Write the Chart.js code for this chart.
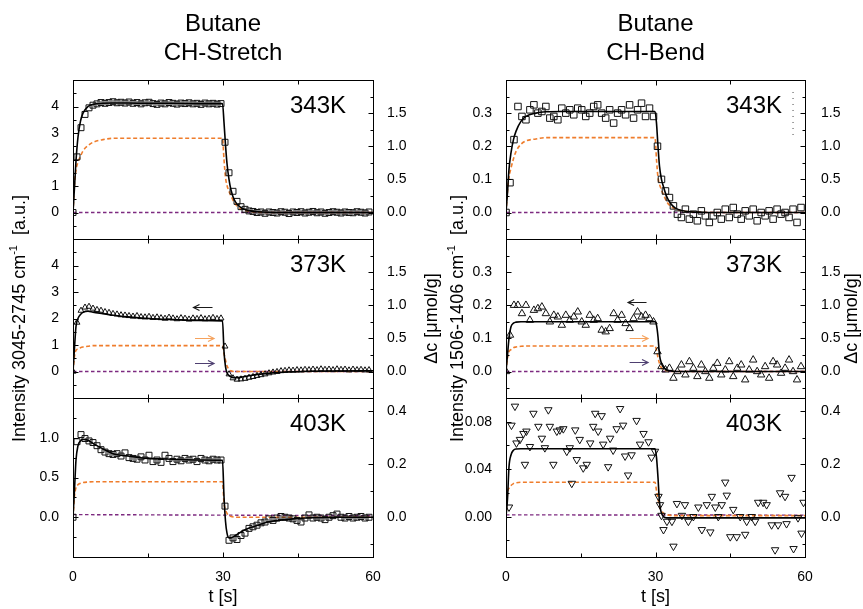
<!DOCTYPE html>
<html>
<head>
<meta charset="utf-8">
<title>Butane transient response</title>
<script src="https://cdn.jsdelivr.net/npm/chart.js@4.4.1/dist/chart.umd.min.js"></script>
<style>
  html, body { margin: 0; padding: 0; background: #fff; }
  #fig { position: relative; width: 863px; height: 609px; }
  #fig canvas { position: absolute; left: 0; top: 0; }
</style>
</head>
<body>
<div id="fig">
  <canvas id="p0" width="863" height="609"></canvas>
  <canvas id="p1" width="863" height="609"></canvas>
  <canvas id="p2" width="863" height="609"></canvas>
  <canvas id="p3" width="863" height="609"></canvas>
  <canvas id="p4" width="863" height="609"></canvas>
  <canvas id="p5" width="863" height="609"></canvas>
</div>
<script>
const FONT = '"Liberation Sans", Arial, Helvetica, sans-serif';
const ORANGE = '#ef7d2c';
const PURPLE = '#7d2a80';

// tick labels
const timeTicks = [0, 30, 60];
const timeMinor = [15, 45];
const stretchTicks = [0, 1, 2, 3, 4];
const stretchTicks403 = [0, 0.5, 1];
const bendTicks = [0, 0.1, 0.2, 0.3];
const bendTicks403 = [0, 0.04, 0.08];
const dcTicks = [0, 0.5, 1, 1.5];
const dcTicks403 = [0, 0.2, 0.4];

// measured spectra, time in s
const tGrid = [
  0.0, 0.8, 1.6, 2.4, 3.2, 4.0, 4.8, 5.6, 6.4, 7.2,
  8.0, 8.8, 9.6, 10.4, 11.2, 12.0, 12.8, 13.6, 14.4, 15.2,
  16.0, 16.8, 17.6, 18.4, 19.2, 20.0, 20.8, 21.6, 22.4, 23.2,
  24.0, 24.8, 25.6, 26.4, 27.2, 28.0, 28.8, 29.6, 30.4, 31.2,
  32.0, 32.8, 33.6, 34.4, 35.2, 36.0, 36.8, 37.6, 38.4, 39.2,
  40.0, 40.8, 41.6, 42.4, 43.2, 44.0, 44.8, 45.6, 46.4, 47.2,
  48.0, 48.8, 49.6, 50.4, 51.2, 52.0, 52.8, 53.6, 54.4, 55.2,
  56.0, 56.8, 57.6, 58.4, 59.2];

const stretch343 = [
  0.0, 2.1, 3.2, 3.7, 3.95, 4.05, 4.1, 4.15, 4.12, 4.15,
  4.18, 4.14, 4.16, 4.13, 4.17, 4.12, 4.15, 4.1, 4.14, 4.16,
  4.11, 4.08, 4.13, 4.1, 4.15, 4.12, 4.09, 4.13, 4.11, 4.14,
  4.1, 4.12, 4.08, 4.13, 4.1, 4.12, 4.09, 4.11, 2.65, 1.5,
  0.8, 0.42, 0.22, 0.12, 0.06, 0.04, 0.0, 0.02, -0.03, 0.02,
  0.0, -0.02, 0.03, 0.01, -0.04, 0.02, 0.0, 0.03, -0.02, 0.01,
  0.04, -0.01, 0.02, -0.03, 0.0, 0.03, 0.01, -0.02, 0.02, 0.0,
  -0.01, 0.03, 0.01, -0.02, 0.02];

const stretch373 = [
  0.0, 1.85, 2.3, 2.42, 2.45, 2.38, 2.33, 2.3, 2.25, 2.22,
  2.18, 2.16, 2.13, 2.12, 2.1, 2.08, 2.1, 2.06, 2.05, 2.07,
  2.03, 2.05, 2.02, 2.0, 2.04, 2.01, 1.98, 2.02, 2.0, 1.97,
  2.01, 1.99, 2.02, 1.98, 2.0, 2.03, 1.99, 2.01, 0.95, -0.1,
  -0.25, -0.3, -0.29, -0.27, -0.23, -0.2, -0.16, -0.13, -0.1, -0.06,
  -0.03, -0.01, 0.02, 0.03, 0.05, 0.04, 0.06, 0.05, 0.07, 0.06,
  0.08, 0.06, 0.09, 0.07, 0.08, 0.06, 0.09, 0.07, 0.08, 0.05,
  0.08, 0.06, 0.07, 0.05, 0.06];

const stretch403 = [
  0.0, 0.95, 1.04, 0.99, 0.96, 0.94, 0.9, 0.85, 0.82, 0.8,
  0.79, 0.8, 0.77, 0.81, 0.75, 0.74, 0.73, 0.76, 0.72, 0.78,
  0.7, 0.72, 0.69, 0.78, 0.74, 0.7, 0.73, 0.71, 0.74, 0.72,
  0.73, 0.7, 0.74, 0.72, 0.71, 0.73, 0.72, 0.72, 0.14, -0.29,
  -0.26, -0.28, -0.23, -0.2, -0.14, -0.12, -0.1, -0.07, -0.06, -0.02,
  -0.04, -0.01, 0.01, 0.0, -0.01, -0.02, -0.04, -0.06, -0.01, 0.03,
  -0.01, 0.0, -0.01, -0.03, 0.0, 0.02, 0.04, 0.0, -0.01, 0.01,
  -0.01, 0.0, 0.01, -0.01, 0.0];

const bend343 = [
  0.0, 0.09, 0.22, 0.32, 0.29, 0.28, 0.31, 0.325, 0.3, 0.305,
  0.32, 0.285, 0.29, 0.28, 0.315, 0.3, 0.31, 0.295, 0.315, 0.31,
  0.29, 0.3, 0.32, 0.325, 0.3, 0.285, 0.31, 0.27, 0.3, 0.31,
  0.295, 0.325, 0.285, 0.31, 0.33, 0.29, 0.315, 0.29, 0.2, 0.1,
  0.065, 0.045, 0.02, -0.005, -0.015, 0.01, -0.02, -0.005, -0.025, 0.005,
  -0.01, -0.03, -0.01, 0.0, -0.02, 0.01, -0.015, 0.015, -0.005, -0.02,
  0.005, -0.01, 0.01, -0.025, 0.0, -0.01, 0.005, -0.02, 0.01, -0.005,
  0.0, -0.015, 0.01, -0.03, 0.015];

const bend373 = [
  0.0, 0.11, 0.2, 0.2, 0.175, 0.2, 0.155, 0.185, 0.19, 0.195,
  0.175, 0.15, 0.17, 0.165, 0.14, 0.17, 0.155, 0.165, 0.18, 0.15,
  0.14, 0.17, 0.155, 0.16, 0.125, 0.12, 0.13, 0.175, 0.155, 0.17,
  0.145, 0.13, 0.16, 0.18, 0.165, 0.17, 0.16, 0.15, 0.06, 0.015,
  0.005, 0.01, -0.02, 0.0, 0.02, -0.01, 0.03, 0.01, -0.015, 0.02,
  0.0, -0.02, 0.01, 0.025, -0.01, 0.005, 0.03, -0.015, 0.01, 0.02,
  -0.025, 0.005, 0.035, 0.0, -0.01, 0.015, -0.02, 0.03, 0.02, -0.005,
  0.01, 0.035, 0.0, -0.025, 0.015];

const tBend403 = [
  0.6, 1.1, 1.8, 2.1, 2.8, 3.5, 3.8, 4.1, 4.8, 5.5,
  6.5, 7.2, 7.8, 8.5, 8.8, 9.5, 10.2, 10.8, 11.5, 12.2,
  12.8, 13.2, 13.9, 14.2, 14.8, 15.5, 16.2, 16.9, 17.5, 17.9,
  18.5, 19.2, 19.5, 20.5, 20.9, 21.5, 22.2, 22.9, 23.5, 23.9,
  24.5, 25.2, 26.2, 26.9, 27.6, 28.6, 29.2, 29.9, 30.6, 30.9,
  31.2, 31.6, 32.3, 33.3, 33.6, 34.3, 35.3, 35.9, 36.6, 37.6,
  38.6, 39.3, 40.3, 41.0, 41.3, 42.0, 42.6, 43.3, 44.0, 44.3,
  45.0, 45.6, 46.3, 47.0, 48.0, 48.3, 49.3, 50.0, 50.6, 51.6,
  52.3, 53.3, 54.0, 54.6, 55.0, 56.0, 56.3, 57.3, 57.7, 58.6,
  59.3, 59.7];
const bend403 = [
  0.008, 0.077, 0.093, 0.062, 0.065, 0.070, 0.044, 0.072, 0.059, 0.087,
  0.076, 0.066, 0.058, 0.090, 0.076, 0.044, 0.072, 0.073, 0.074, 0.055,
  0.058, 0.028, 0.073, 0.048, 0.065, 0.041, 0.044, 0.062, 0.076, 0.087,
  0.072, 0.085, 0.061, 0.042, 0.066, 0.056, 0.074, 0.091, 0.077, 0.051,
  0.035, 0.052, 0.081, 0.061, 0.070, 0.063, 0.050, 0.055, 0.017, 0.010,
  0.001, -0.011, -0.004, -0.004, -0.025, 0.011, 0.001, 0.010, -0.004, 0.000,
  0.008, -0.011, 0.010, -0.013, 0.017, 0.008, 0.000, 0.010, 0.029, 0.018,
  -0.017, 0.006, -0.017, 0.000, -0.015, -0.004, 0.000, -0.004, 0.012, 0.012,
  0.010, -0.007, -0.028, -0.007, 0.020, 0.017, -0.006, 0.033, -0.027, -0.001,
  -0.014, 0.012];

// model curves: intensity fit (left axis) and concentration change (right axis)
const tFit = [0, 0.3, 0.6, 1, 1.5, 2, 3, 4, 6, 8, 11, 15, 20, 25, 29.9,
  30.2, 30.5, 30.8, 31.2, 31.6, 32.2, 33, 34, 35.5, 37, 39, 41, 44, 48, 53, 60];

const fitStretch343 = [0, 0.95, 1.95, 2.85, 3.45, 3.75, 4.0, 4.08, 4.12, 4.13,
  4.13, 4.12, 4.12, 4.11, 4.11, 3.4, 2.55, 1.85, 1.25, 0.85,
  0.5, 0.28, 0.14, 0.06, 0.03, 0.01, 0, 0, 0, 0, 0];
const dcStretch343 = [0, 0.43, 0.64, 0.76, 0.85, 0.93, 1.01, 1.06, 1.1, 1.12,
  1.12, 1.12, 1.12, 1.12, 1.12, 0.8, 0.53, 0.41, 0.32, 0.25,
  0.16, 0.085, 0.043, 0.016, 0.005, 0, 0, 0, 0, 0, 0];

const fitStretch373 = [0, 0.9, 1.7, 2.0, 2.15, 2.23, 2.28, 2.24, 2.18, 2.12,
  2.06, 2.0, 1.96, 1.93, 1.91, 0.75, 0.18, -0.05, -0.15, -0.21,
  -0.23, -0.23, -0.2, -0.15, -0.11, -0.07, -0.04, -0.01, 0.01, 0.02, 0.03];
const dcStretch373 = [0, 0.23, 0.32, 0.34, 0.36, 0.37, 0.38, 0.39, 0.39, 0.39,
  0.39, 0.39, 0.39, 0.39, 0.39, 0.27, 0.17, 0.085, 0.032, 0.01,
  0, 0, 0, 0, 0, 0, 0, 0, 0, 0, 0];

const fitStretch403 = [0, 0.35, 0.72, 0.9, 0.96, 0.98, 0.97, 0.93, 0.86, 0.8,
  0.77, 0.74, 0.73, 0.72, 0.715, 0.26, -0.05, -0.2, -0.26, -0.26,
  -0.24, -0.21, -0.17, -0.13, -0.1, -0.06, -0.04, -0.02, -0.007, 0, 0];
const dcStretch403 = [0, 0.08, 0.112, 0.123, 0.128, 0.131, 0.133, 0.134, 0.134, 0.134,
  0.134, 0.134, 0.134, 0.134, 0.134, 0.055, 0.028, 0.015, 0.006, 0.003,
  0.001, 0, 0, 0, 0, 0, 0, 0, 0, 0, 0];

const fitBend343 = [0, 0.06, 0.13, 0.18, 0.22, 0.245, 0.275, 0.29, 0.3, 0.304,
  0.305, 0.305, 0.305, 0.305, 0.305, 0.27, 0.2, 0.14, 0.1, 0.078,
  0.05, 0.028, 0.013, 0.005, 0.002, 0.001, 0, 0, 0, 0, 0];
const dcBend343 = [0, 0.32, 0.53, 0.67, 0.81, 0.92, 1.03, 1.08, 1.11, 1.13,
  1.13, 1.13, 1.13, 1.13, 1.13, 0.8, 0.53, 0.43, 0.34, 0.27,
  0.17, 0.096, 0.053, 0.021, 0.011, 0.005, 0, 0, 0, 0, 0];

const fitBend373 = [0, 0.05, 0.1, 0.135, 0.146, 0.149, 0.15, 0.15, 0.15, 0.15,
  0.15, 0.15, 0.15, 0.15, 0.15, 0.14, 0.105, 0.05, 0.025, 0.013,
  0.005, 0.002, 0, 0, 0, 0, 0, 0, 0, 0, 0];
const dcBend373 = [0, 0.21, 0.3, 0.33, 0.36, 0.37, 0.38, 0.384, 0.384, 0.384,
  0.384, 0.384, 0.384, 0.384, 0.384, 0.32, 0.21, 0.12, 0.053, 0.027,
  0.011, 0, 0, 0, 0, 0, 0, 0, 0, 0, 0];

const fitBend403 = [0, 0.015, 0.042, 0.052, 0.056, 0.057, 0.0572, 0.0572, 0.0572, 0.0572,
  0.0572, 0.0572, 0.0572, 0.0572, 0.0572, 0.05, 0.033, 0.012, 0.003, 0,
  -0.001, -0.001, -0.001, -0.001, -0.001, -0.001, -0.001, -0.001, -0.001, -0.001, -0.001];
const dcBend403 = [0, 0.09, 0.11, 0.12, 0.127, 0.13, 0.132, 0.132, 0.132, 0.132,
  0.132, 0.132, 0.132, 0.132, 0.132, 0.1, 0.07, 0.04, 0.025, 0.015,
  0.01, 0.007, 0.006, 0.006, 0.006, 0.006, 0.006, 0.006, 0.006, 0.006, 0.006];

// reference lines (right axis)
const tBase = [0, 60];
const baseStretch343 = [0, 0];
const baseStretch373 = [0, 0];
const baseStretch403 = [0.01, 0.006];
const baseBend343 = [0, 0];
const baseBend373 = [0, 0];
const baseBend403 = [0.009, 0.008];
const tDots = [57.6, 57.6];
const dotsBend343 = [1.17, 1.89];

// layout of the six plot frames (px)
const COLS = [[73, 373], [506, 805]];
const ROWS = [[80, 239], [239, 398], [398, 557]];
const Y_W = 60, Y2_W = 50, X_H = 40;

function pts(xs, ys) { return xs.map((x, i) => ({ x: x, y: ys[i] })); }

function minorValues(min, max, step, majors) {
  const out = [];
  for (let v = Math.ceil(min / step - 1e-9) * step; v < max - 1e-9; v += step) {
    if (v <= min + 1e-9) continue;
    if (majors.some(m => Math.abs(m - v) < step / 10)) continue;
    out.push(v);
  }
  return out;
}

function rotatedText(ctx, x, y, parts) {
  ctx.save();
  ctx.translate(x, y);
  ctx.rotate(-Math.PI / 2);
  ctx.textAlign = 'left';
  ctx.textBaseline = 'middle';
  let w = 0;
  parts.forEach(p => { ctx.font = p.size + 'px ' + FONT; p.w = ctx.measureText(p.text).width; w += p.w; });
  let cx = -w / 2;
  parts.forEach(p => {
    ctx.font = p.size + 'px ' + FONT;
    ctx.fillText(p.text, cx, p.dy || 0);
    cx += p.w;
  });
  ctx.restore();
}

const decor = {
  id: 'decor',
  afterDraw(chart, args, o) {
    const ctx = chart.ctx, a = chart.chartArea;
    const sx = chart.scales.x, sy = chart.scales.y, sy2 = chart.scales.y2;
    ctx.save();
    ctx.strokeStyle = '#000';
    ctx.lineWidth = 1;
    ctx.strokeRect(a.left + 0.5, a.top + 0.5, a.right - a.left, a.bottom - a.top);

    ctx.beginPath();
    const xTick = (v, len) => {
      const p = Math.round(sx.getPixelForValue(v)) + 0.5;
      ctx.moveTo(p, a.bottom + 0.5); ctx.lineTo(p, a.bottom + 0.5 - len);
      ctx.moveTo(p, a.top + 0.5); ctx.lineTo(p, a.top + 0.5 + len);
    };
    const yTick = (scale, v, len, side) => {
      const p = Math.round(scale.getPixelForValue(v)) + 0.5;
      if (p < a.top + 2 || p > a.bottom - 1) return;
      const x0 = side < 0 ? a.left + 0.5 : a.right + 0.5;
      ctx.moveTo(x0, p); ctx.lineTo(x0 - side * len, p);
    };
    timeTicks.forEach(v => xTick(v, 5));
    timeMinor.forEach(v => xTick(v, 4));
    o.yMajor.forEach(v => yTick(sy, v, 5, -1));
    minorValues(sy.min, sy.max, o.yStep, o.yMajor).forEach(v => yTick(sy, v, 3, -1));
    o.y2Major.forEach(v => yTick(sy2, v, 5, 1));
    minorValues(sy2.min, sy2.max, o.y2Step, o.y2Major).forEach(v => yTick(sy2, v, 3, 1));
    ctx.stroke();

    // temperature label
    ctx.fillStyle = '#000';
    ctx.font = '24px ' + FONT;
    ctx.textAlign = 'right';
    ctx.textBaseline = 'alphabetic';
    ctx.fillText(o.label, a.right - o.labelInset, a.top + 33);

    // arrows pointing to the axis each curve belongs to
    (o.arrows || []).forEach(ar => {
      const x1 = sx.getPixelForValue(ar.from), x2 = sx.getPixelForValue(ar.to);
      const y = Math.round(sy.getPixelForValue(ar.y)) + 0.5;
      const d = x2 > x1 ? -1 : 1;
      ctx.strokeStyle = ar.color;
      ctx.lineWidth = 1.2;
      ctx.beginPath();
      ctx.moveTo(x1, y); ctx.lineTo(x2, y);
      ctx.moveTo(x2 + d * 6, y - 3); ctx.lineTo(x2, y); ctx.lineTo(x2 + d * 6, y + 3);
      ctx.stroke();
    });

    if (o.column) {
      const c = o.column, mid = (a.left + a.right) / 2;
      ctx.fillStyle = '#000';
      ctx.textAlign = 'center';
      ctx.textBaseline = 'alphabetic';
      ctx.font = '24px ' + FONT;
      ctx.fillText(c.title[0], mid, c.titleY[0]);
      ctx.fillText(c.title[1], mid, c.titleY[1]);
      ctx.font = '18px ' + FONT;
      ctx.textBaseline = 'middle';
      ctx.fillText('t [s]', mid, c.xTitleY);
      rotatedText(ctx, c.leftX, c.midY, c.leftTitle);
      rotatedText(ctx, c.rightX, c.midY, c.rightTitle);
    }
    ctx.restore();
  }
};

const dcTitle = [{ text: 'Δc [μmol/g]', size: 18 }];

const panels = [
  { canvas: 'p0', col: 0, row: 0, t: tGrid, obs: stretch343, marker: 'rect', size: 4.2, rot: 0,
    fit: fitStretch343, dc: dcStretch343, base: baseStretch343,
    y: [-1, 5], yMajor: stretchTicks, yStep: 0.5, yDig: 0,
    y2: [-0.4, 2.0], y2Major: dcTicks, y2Step: 0.25, label: '343K', labelInset: 27, pad2: 6 },
  { canvas: 'p1', col: 0, row: 1, t: tGrid, obs: stretch373, marker: 'triangle', size: 3.4, rot: 0,
    fit: fitStretch373, dc: dcStretch373, base: baseStretch373,
    y: [-1, 5], yMajor: stretchTicks, yStep: 0.5, yDig: 0,
    y2: [-0.4, 2.0], y2Major: dcTicks, y2Step: 0.25, label: '373K', labelInset: 27, pad2: 6,
    arrows: [
      { from: 27.9, to: 24.1, y: 2.45, color: '#1a1a1a' },
      { from: 24.4, to: 28.2, y: 1.28, color: '#f5a25d' },
      { from: 24.4, to: 28.2, y: 0.33, color: '#4e3f70' }] },
  { canvas: 'p2', col: 0, row: 2, t: tGrid, obs: stretch403, marker: 'rect', size: 4.2, rot: 0,
    fit: fitStretch403, dc: dcStretch403, base: baseStretch403,
    y: [-0.5, 1.5], yMajor: stretchTicks403, yStep: 0.25, yDig: 1,
    y2: [-0.15, 0.45], y2Major: dcTicks403, y2Step: 0.1, label: '403K', labelInset: 27, pad2: 6,
    column: { title: ['Butane', 'CH-Stretch'], titleY: [31, 60], xTitleY: 597, midY: 318.5,
      leftX: 20, rightX: 432,
      leftTitle: [{ text: 'Intensity 3045-2745 cm', size: 18 }, { text: '-1', size: 11, dy: -6 }, { text: '  [a.u.]', size: 18 }],
      rightTitle: dcTitle } },
  { canvas: 'p3', col: 1, row: 0, t: tGrid, obs: bend343, marker: 'rect', size: 4.6, rot: 0,
    fit: fitBend343, dc: dcBend343, base: baseBend343,
    y: [-0.08, 0.4], yMajor: bendTicks, yStep: 0.05, yDig: 1,
    y2: [-0.4, 2.0], y2Major: dcTicks, y2Step: 0.25, label: '343K', labelInset: 23, pad2: 8,
    dots: true },
  { canvas: 'p4', col: 1, row: 1, t: tGrid, obs: bend373, marker: 'triangle', size: 4.3, rot: 0,
    fit: fitBend373, dc: dcBend373, base: baseBend373,
    y: [-0.08, 0.4], yMajor: bendTicks, yStep: 0.05, yDig: 1,
    y2: [-0.4, 2.0], y2Major: dcTicks, y2Step: 0.25, label: '373K', labelInset: 23, pad2: 8,
    arrows: [
      { from: 28.2, to: 24.5, y: 0.211, color: '#1a1a1a' },
      { from: 24.8, to: 28.5, y: 0.102, color: '#f5a25d' },
      { from: 24.8, to: 28.5, y: 0.030, color: '#4e3f70' }] },
  { canvas: 'p5', col: 1, row: 2, t: tBend403, obs: bend403, marker: 'triangle', size: 4.3, rot: 180,
    fit: fitBend403, dc: dcBend403, base: baseBend403,
    y: [-0.034, 0.1], yMajor: bendTicks403, yStep: 0.02, yDig: 2,
    y2: [-0.15, 0.45], y2Major: dcTicks403, y2Step: 0.1, label: '403K', labelInset: 23, pad2: 8,
    column: { title: ['Butane', 'CH-Bend'], titleY: [31, 60], xTitleY: 597, midY: 318.5,
      leftX: 458, rightX: 852,
      leftTitle: [{ text: 'Intensity 1506-1406 cm', size: 18 }, { text: '-1', size: 11, dy: -6 }, { text: '  [a.u.]', size: 18 }],
      rightTitle: dcTitle } }
];

Chart.defaults.font.family = FONT;
Chart.defaults.color = '#000';

panels.forEach(p => {
  const col = COLS[p.col], row = ROWS[p.row];
  const tickFont = { family: FONT, size: 14 };
  const datasets = [
    { data: pts(tFit, p.fit), yAxisID: 'y', borderColor: '#000', borderWidth: 1.6,
      pointRadius: 0, cubicInterpolationMode: 'monotone', fill: false },
    { data: pts(p.t, p.obs), yAxisID: 'y', showLine: false, pointStyle: p.marker,
      pointRadius: p.size, pointRotation: p.rot, borderColor: '#111', borderWidth: 1,
      backgroundColor: 'rgba(0,0,0,0)' },
    { data: pts(tFit, p.dc), yAxisID: 'y2', borderColor: ORANGE, borderWidth: 1.6,
      borderDash: [4, 2.5], pointRadius: 0, cubicInterpolationMode: 'monotone', fill: false },
    { data: pts(tBase, p.base), yAxisID: 'y2', borderColor: PURPLE, borderWidth: 1.4,
      borderDash: [3.5, 2.5], pointRadius: 0, fill: false }
  ];
  if (p.dots) {
    datasets.push({ data: pts(tDots, dotsBend343), yAxisID: 'y2', borderColor: '#444',
      borderWidth: 1, borderDash: [1, 5], pointRadius: 0, fill: false });
  }
  new Chart(document.getElementById(p.canvas), {
    type: 'line',
    data: { datasets: datasets },
    options: {
      responsive: false,
      animation: false,
      events: [],
      layout: { autoPadding: false,
        padding: { left: col[0] - Y_W, right: 863 - col[1] - Y2_W, top: row[0], bottom: 609 - row[1] - X_H } },
      plugins: {
        legend: { display: false },
        tooltip: { enabled: false },
        decor: { yMajor: p.yMajor, yStep: p.yStep, y2Major: p.y2Major, y2Step: p.y2Step,
          label: p.label, labelInset: p.labelInset, arrows: p.arrows, column: p.column }
      },
      scales: {
        x: { type: 'linear', position: 'bottom', min: 0, max: 60, bounds: 'data',
          grid: { display: false }, border: { display: false },
          afterBuildTicks: s => { s.ticks = timeTicks.map(v => ({ value: v })); },
          afterFit: s => { s.height = X_H; },
          ticks: { display: p.row === 2, padding: 4, maxRotation: 0, autoSkip: false,
            color: '#000', font: tickFont } },
        y: { type: 'linear', position: 'left', min: p.y[0], max: p.y[1], bounds: 'data',
          grid: { display: false }, border: { display: false },
          afterBuildTicks: s => { s.ticks = p.yMajor.map(v => ({ value: v })); },
          afterFit: s => { s.width = Y_W; },
          ticks: { padding: 6, autoSkip: false, color: '#000', font: tickFont,
            callback: v => Number(v).toFixed(p.yDig) } },
        y2: { type: 'linear', position: 'right', min: p.y2[0], max: p.y2[1], bounds: 'data',
          grid: { display: false }, border: { display: false },
          afterBuildTicks: s => { s.ticks = p.y2Major.map(v => ({ value: v })); },
          afterFit: s => { s.width = Y2_W; },
          ticks: { padding: p.pad2, autoSkip: false, color: '#000', font: tickFont,
            callback: v => Number(v).toFixed(1) } }
      }
    },
    plugins: [decor]
  });
});
</script>
</body>
</html>
